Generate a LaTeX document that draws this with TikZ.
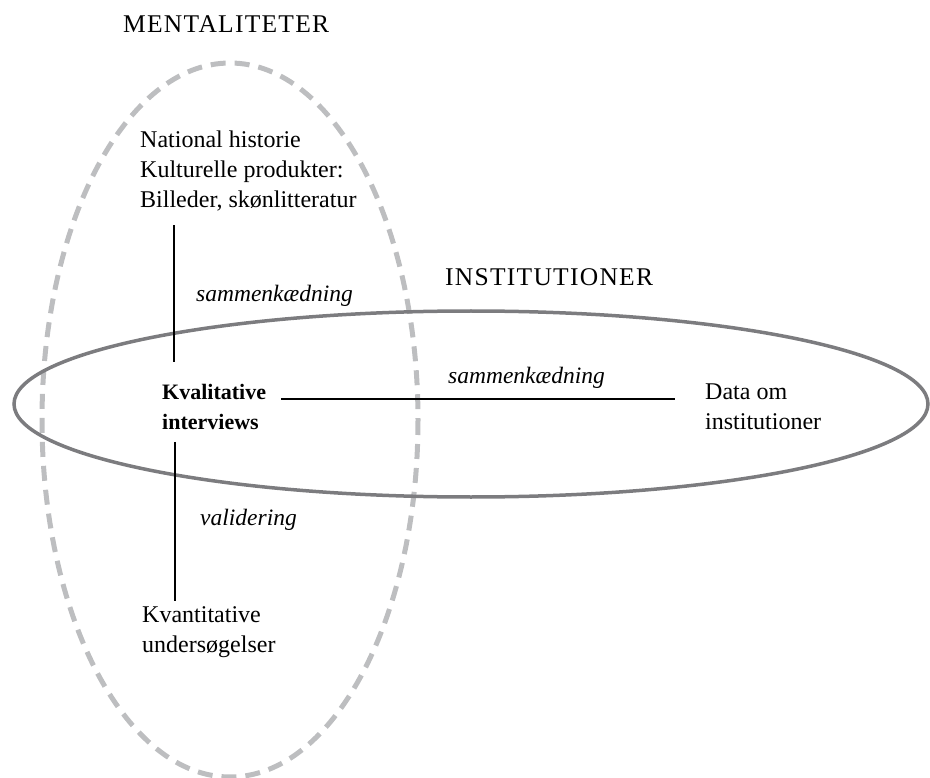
\documentclass[tikz,border=0pt]{standalone}
\usepackage{fontspec}
\setmainfont{Liberation Serif}
\definecolor{dashgray}{HTML}{BDBEC0}
\definecolor{ringgray}{HTML}{7C7C7F}
\usepackage{tikz}
\usetikzlibrary{calc, positioning}

\begin{document}
\begin{tikzpicture}[x=1pt, y=-1pt,
  txt/.style={font=\fontsize{24}{30}\selectfont, align=left, anchor=west, inner sep=0pt},
  bold/.style={txt, font=\fontsize{22}{30}\selectfont\bfseries},
  lbl/.style={txt, font=\fontsize{23.5}{30}\selectfont\itshape},
  area/.style={txt, font=\fontsize{25.5}{30}\selectfont\addfontfeature{LetterSpace=5}},
  link/.style={draw=black, line width=1.6pt},
]
\useasboundingbox (0,0) rectangle (930,778);

% the two fields
\draw[dashgray, line width=5pt, dash pattern=on 15pt off 9pt] (230,420) ellipse [x radius=188, y radius=357];
\draw[ringgray, line width=3.5pt] (471,404) ellipse [x radius=457, y radius=93];

\node[area] (ment) at (123,24) {MENTALITETER};
\node[area] (inst) at (445,277) {INSTITUTIONER};

\node[txt] (lit) at (140,171) {National historie\\Kulturelle produkter:\\Billeder, skønlitteratur};
\node[bold] (kval) at (162,407) {Kvalitative\\interviews};
\node[txt] (data) at (705,407) {Data om\\institutioner};
\node[txt] (kvant) at (142,632) {Kvantitative\\undersøgelser};

% connectors
\draw[link] ([xshift=12pt,yshift=-14pt]kval.west |- lit.south) -- ([xshift=12pt,yshift=22pt]kval.north west);
\draw[link] ([xshift=15pt,yshift=8pt]kval.east) -- ([xshift=-30pt,yshift=8pt]data.west);
\draw[link] ([xshift=13pt,yshift=-12pt]kval.south west) -- ([xshift=33pt,yshift=5pt]kvant.north west);

\node[lbl] (l1) at (196,296) {sammenkædning};
\node[lbl] (l2) at (448,378) {sammenkædning};
\node[lbl] (l3) at (200,520) {validering};
\end{tikzpicture}
\end{document}
